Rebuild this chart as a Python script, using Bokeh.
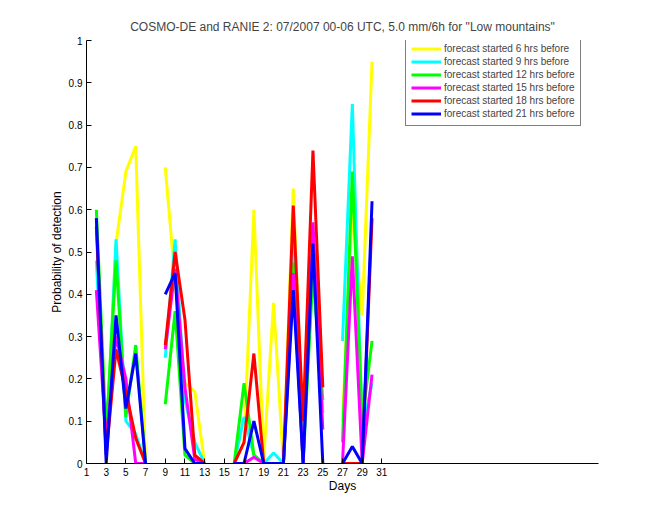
import math
from bokeh.plotting import figure
from bokeh.models import Legend, LegendItem, FixedTicker, Range1d
from bokeh.embed import file_html
from bokeh.resources import INLINE

nan = float("nan")
days = list(range(1, 32))

yellow = [nan, 0.58, 0.05, 0.52, 0.69, 0.75, 0.0, nan, 0.70, 0.43, 0.19, 0.17, 0.0, nan, nan,
          0.0, 0.05, 0.60, 0.01, 0.38, 0.0, 0.65, 0.05, 0.55, 0.12, nan, 0.10, 0.60, 0.35, 0.95, nan]
cyan = [nan, 0.48, 0.03, 0.53, 0.10, 0.07, 0.0, nan, 0.25, 0.53, 0.15, 0.05, 0.0, nan, nan,
        0.0, 0.11, 0.02, 0.0, 0.025, 0.0, 0.53, 0.05, 0.46, 0.12, nan, 0.29, 0.85, 0.08, 0.19, nan]
green = [nan, 0.60, 0.07, 0.48, 0.11, 0.28, 0.0, nan, 0.14, 0.36, 0.02, 0.0, 0.0, nan, nan,
         0.0, 0.19, 0.02, 0.0, 0.0, 0.0, 0.475, 0.0, 0.45, 0.15, nan, 0.05, 0.69, 0.10, 0.29, nan]
magenta = [nan, 0.41, 0.05, 0.30, 0.20, 0.0, 0.0, nan, 0.27, 0.46, 0.18, 0.01, 0.0, nan, nan,
           0.0, 0.0, 0.015, 0.0, 0.0, 0.0, 0.45, 0.0, 0.57, 0.08, nan, 0.0, 0.49, 0.0, 0.21, nan]
red = [nan, 0.56, 0.02, 0.27, 0.17, 0.06, 0.0, nan, 0.28, 0.50, 0.34, 0.02, 0.0, nan, nan,
       0.0, 0.05, 0.26, 0.0, 0.0, 0.0, 0.61, 0.10, 0.74, 0.18, nan, 0.0, 0.0, 0.0, 0.58, nan]
blue = [nan, 0.58, 0.0, 0.35, 0.13, 0.26, 0.0, nan, 0.40, 0.45, 0.035, 0.0, 0.0, nan, nan,
        0.0, 0.0, 0.10, 0.0, 0.0, 0.0, 0.41, 0.0, 0.52, 0.0, nan, 0.0, 0.04, 0.0, 0.62, nan]

series = [
    ("forecast started 6 hrs before", yellow, "#ffff00"),
    ("forecast started 9 hrs before", cyan, "#00ffff"),
    ("forecast started 12 hrs before", green, "#00ff00"),
    ("forecast started 15 hrs before", magenta, "#ff00ff"),
    ("forecast started 18 hrs before", red, "#ff0000"),
    ("forecast started 21 hrs before", blue, "#0000ff"),
]

title_text = 'COSMO-DE and RANIE 2: 07/2007 00-06 UTC, 5.0 mm/6h for "Low mountains"'
x_ticks = list(range(1, 32, 2))
y_ticks = [0, 0.1, 0.2, 0.3, 0.4, 0.5, 0.6, 0.7, 0.8, 0.9, 1]
y_tick_labels = {0: "0", 0.1: "0.1", 0.2: "0.2", 0.3: "0.3", 0.4: "0.4", 0.5: "0.5",
                 0.6: "0.6", 0.7: "0.7", 0.8: "0.8", 0.9: "0.9", 1: "1"}

FONT = "Liberation Sans"

p = figure(width=660, height=520, output_backend="svg", toolbar_location=None,
           x_range=Range1d(1, 53), y_range=Range1d(0, 1),
           min_border_left=86, min_border_right=62, min_border_top=40, min_border_bottom=57,
           title=title_text)
p.title.align = "center"
p.title.vertical_align = "top"
p.title.text_font = FONT
p.title.text_font_size = "12px"
p.title.text_font_style = "normal"
p.outline_line_color = None
p.xgrid.visible = False
p.ygrid.visible = False
p.background_fill_color = "white"
p.border_fill_color = "white"

p.xaxis.ticker = FixedTicker(ticks=x_ticks)
p.yaxis.ticker = FixedTicker(ticks=y_ticks)
p.yaxis.major_label_overrides = y_tick_labels
for ax in (p.xaxis, p.yaxis):
    ax.major_tick_in = 5
    ax.major_tick_out = 0
    ax.minor_tick_in = 0
    ax.minor_tick_out = 0
    ax.axis_line_color = "black"
    ax.major_tick_line_color = "black"
    ax.major_label_text_font = FONT
    ax.major_label_text_font_size = "10px"
    ax.major_label_text_color = "black"
    ax.axis_label_text_font = FONT
    ax.axis_label_text_font_size = "12px"
    ax.axis_label_text_font_style = "normal"
    ax.axis_label_text_color = "black"
p.xaxis.axis_label = "Days"
p.yaxis.axis_label = "Probability of detection"
p.xaxis.major_label_standoff = 4
p.yaxis.major_label_standoff = 4
p.xaxis.axis_label_standoff = 0
p.yaxis.axis_label_standoff = 2

items = []
for label, vals, color in series:
    r = p.line(days, vals, line_color=color, line_width=3)
    items.append(LegendItem(label=label, renderers=[r]))

legend = Legend(items=items, location=(319, 337))
legend.label_text_font = FONT
legend.label_text_font_size = "10px"
legend.label_height = 11
legend.glyph_height = 13
legend.glyph_width = 30
legend.spacing = 0
legend.padding = 5
legend.margin = 0
legend.label_standoff = 3
legend.border_line_color = "black"
legend.border_line_width = 1
legend.background_fill_alpha = 1
p.add_layout(legend, "center")

open("out.html", "w").write(file_html(p, INLINE))
